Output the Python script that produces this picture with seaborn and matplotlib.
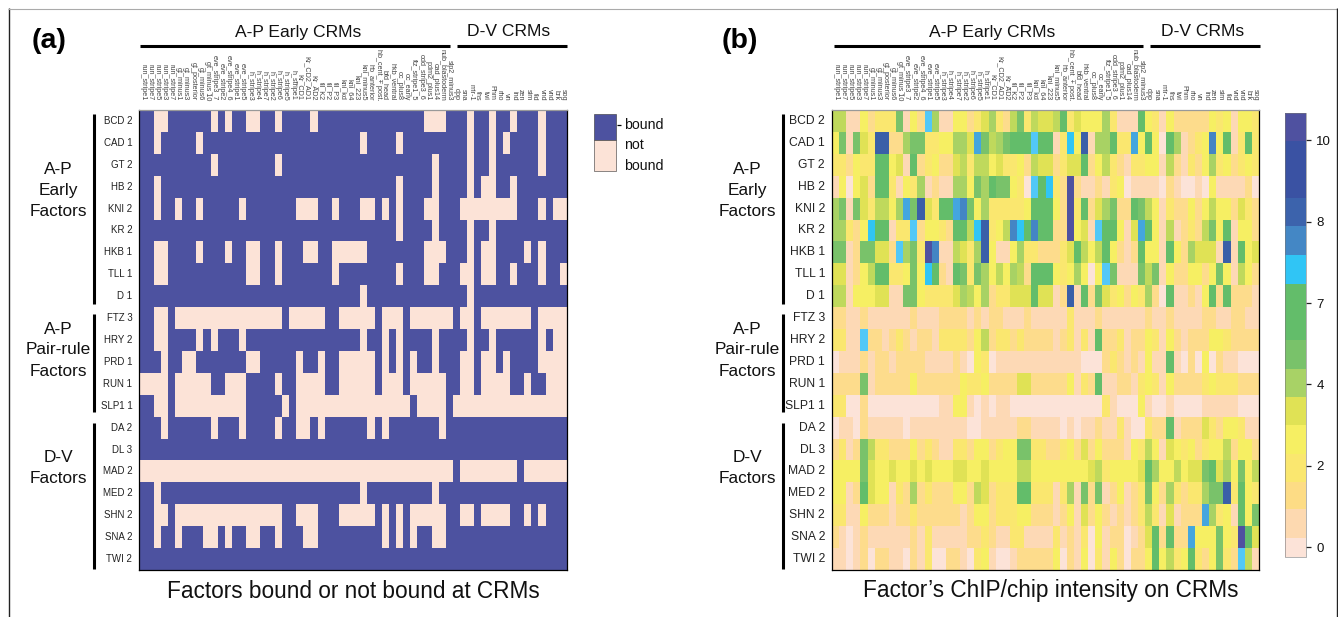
import numpy as np
import pandas as pd
import matplotlib
matplotlib.use("Agg")
import matplotlib.pyplot as plt
import seaborn as sns
from matplotlib.colors import ListedColormap, BoundaryNorm
from matplotlib.cm import ScalarMappable
from matplotlib.lines import Line2D
from matplotlib.patches import Rectangle

W, H = 1338, 617

factors = ["BCD 2", "CAD 1", "GT 2", "HB 2", "KNI 2", "KR 2", "HKB 1", "TLL 1", "D 1",
           "FTZ 3", "HRY 2", "PRD 1", "RUN 1", "SLP1 1",
           "DA 2", "DL 3", "MAD 2", "MED 2", "SHN 2", "SNA 2", "TWI 2"]

crms_ap = ["run_stripe1", "run_stripe7", "run_stripe5", "run_stripe3", "run_stripe7",
           "gt_minus1", "gt_minus3", "gt_posterior", "gt_minus6", "gt_minus 10",
           "eve_stripe3_7", "eve_stripe2", "eve_stripe4_6", "eve_stripe1", "eve_stripe5",
           "h_stripe3", "h_stripe4", "h_stripe7", "h_stripe2", "h_stripe6", "h_stripe5", "h_stripe1",
           "Kr_CD1", "Kr_CD2_AD1", "Kr_AD2", "tll_K2", "tll_P2", "tll_P3",
           "kni_kd", "kni_64", "kni_223", "kni_minus5", "hb_anterior", "hb_cent_+ post.",
           "bfd_head", "hkb_ventral", "oc_plus8", "oc_early", "ftz_stripe1_5", "odd_stripe3_6",
           "pdm2_plus1", "cad_plus14", "nub_blastoderm", "slp2_minus3"]
crms_dv = ["dpp", "sna", "mir-1", "ths", "twi", "Phm", "rho", "vn", "ind", "zen",
           "sim", "tld", "vnd", "vnd", "brk", "sog"]
crms = crms_ap + crms_dv

# panel a: columns where the factor is NOT bound
nb_bcd = [2, 3, 10, 12, 15, 16, 19, 24, 40, 41, 42, 46, 49, 52, 56]
nb_cad = [2, 8, 31, 36, 46, 49, 51, 56]
nb_gt = [10, 19, 41, 46, 49, 56]
nb_hb = [2, 36, 41, 46, 48, 49, 52]
nb_kni = [2, 5, 8, 14, 22, 23, 24, 27, 31, 32, 34, 36, 40, 41, 45, 46, 47, 48, 49, 50, 51, 52, 56, 58, 59]
nb_kr = [36, 41, 46, 49]
nb_hkb = [2, 3, 8, 12, 15, 16, 19, 23, 24, 27, 28, 29, 30, 31, 40, 41, 42, 46, 48, 49, 54, 56]
nb_tll = [2, 3, 15, 16, 19, 27, 36, 40, 41, 45, 46, 48, 49, 52, 56, 59]
nb_d = [31, 46]
nb_ftz = [2, 3, 5, 6, 7, 8, 9, 10, 11, 12, 13, 14, 15, 16, 17, 18, 19, 21, 22, 23, 24, 25, 28, 29, 30, 31, 32,
          34, 35, 36, 38, 39, 40, 41, 42, 43, 45, 46, 48, 49, 50, 51, 52, 53, 54, 56, 57, 58, 59]
nb_hry = [2, 3, 8, 10, 14, 31, 34, 36, 41, 46, 49, 56, 58, 59]
nb_prd = [3, 6, 7, 15, 16, 22, 25, 28, 29, 30, 31, 32, 34, 36, 38, 41, 45, 46, 48, 49, 51, 56, 57, 58, 59]
nb_run = [0, 1, 2, 3, 5, 6, 7, 8, 9, 12, 13, 14, 19, 22, 23, 24, 25, 28, 29, 30, 31, 32, 34, 35, 36,
          38, 39, 40, 41, 42, 45, 46, 48, 49, 50, 51, 54, 57, 58, 59]
nb_slp1 = [2, 3, 5, 6, 7, 8, 9, 10, 11, 12, 13, 14, 20, 22, 23, 24, 25, 26, 27, 28, 29, 30, 31, 32, 33, 34, 35, 36, 37,
           39, 40, 41, 42, 44, 45, 46, 47, 48, 49, 50, 51, 52, 53, 54, 55, 56, 57, 58, 59]
nb_da = [3, 10, 14, 19, 22, 23, 25, 32, 34, 42]
nb_dl = []
nb_mad = [0, 1, 2, 3, 4, 5, 6, 7, 8, 9, 10, 11, 12, 13, 14, 15, 16, 17, 18, 19, 20, 21, 22, 23, 24, 25, 26, 27, 28, 29,
          30, 31, 32, 33, 34, 35, 36, 37, 38, 39, 40, 41, 42, 43, 45, 46, 47, 48, 49, 50, 51, 52, 54, 55, 56, 57, 58, 59]
nb_med = [2, 31, 41]
nb_shn = [2, 3, 5, 6, 7, 8, 9, 10, 11, 12, 13, 14, 15, 16, 17, 18, 19, 22, 23, 24, 28, 29, 30, 31, 32,
          34, 36, 38, 39, 40, 41, 42, 45, 46, 48, 49, 50, 51, 54, 56]
nb_sna = [2, 5, 9, 10, 12, 15, 16, 19, 23, 24, 34, 36, 38, 41, 42]
nb_twi = []
not_bound = [nb_bcd, nb_cad, nb_gt, nb_hb, nb_kni, nb_kr, nb_hkb, nb_tll, nb_d, nb_ftz, nb_hry, nb_prd,
             nb_run, nb_slp1, nb_da, nb_dl, nb_mad, nb_med, nb_shn, nb_sna, nb_twi]

i_bcd = [6,6,1,1,4,2,3,3,3,8, 1,4,2,10,7,1,1,4,4,2, 3,5,7,3,2,6,8,3,6,5, 5,6,9,3,5,4,4,4,7,3, 1,1,1,9,4,3,1,4,2,2, 2,2,2,4,3,4,1,4,4,3]
i_cad = [4,8,1,8,5,3,14,14,2,2, 7,8,8,3,3,4,4,7,7,5, 12,8,6,7,8,9,9,9,10,9, 9,1,3,11,4,14,1,7,7,9, 3,3,12,4,9,4,0,9,7,1, 2,3,4,13,4,9,1,3,9,3]
i_gt = [3,3,2,4,3,3,9,9,4,5, 1,9,2,3,4,2,2,5,6,3, 6,6,4,5,3,3,4,2,6,5, 5,2,3,5,5,9,2,4,6,3, 2,1,3,3,4,4,1,6,2,1, 3,2,4,7,3,4,2,3,4,3]
i_hb = [1,4,0,4,5,2,9,9,3,1, 4,3,7,1,2,1,1,7,7,4, 8,7,9,8,8,4,3,0,10,9, 11,3,2,15,2,1,1,2,1,3, 4,0,1,1,1,1,0,2,1,0, 0,1,0,4,1,1,1,1,2,0]
i_kni = [7,8,1,8,5,3,6,6,4,7, 12,8,14,5,3,9,9,12,13,8, 4,7,3,3,3,3,3,4,9,9, 9,4,2,15,3,9,2,5,7,8, 2,2,9,8,6,4,1,3,2,2, 4,2,4,6,4,4,2,5,3,2]
i_kr = [7,7,3,2,4,11,9,9,1,3, 3,10,2,4,4,3,2,9,9,6, 11,14,3,4,6,13,11,9,13,9, 9,2,2,15,4,5,1,10,9,9, 4,1,5,12,9,4,1,6,1,2, 3,2,6,8,4,9,1,4,4,2]
i_hkb = [8,8,1,2,8,8,5,5,2,10, 7,8,3,15,13,1,1,6,5,3, 7,14,4,1,1,4,7,3,3,2, 2,2,3,5,9,6,4,6,9,4, 2,1,2,9,4,4,1,9,4,2, 7,5,5,5,1,14,1,9,4,5]
i_tll = [5,5,1,2,4,6,9,9,3,3, 4,8,4,11,9,2,1,9,8,3, 8,7,4,6,4,7,6,2,9,9, 9,4,3,4,7,4,0,4,10,8, 1,1,1,8,6,8,1,4,2,2, 4,4,2,4,8,4,1,6,4,2]
i_d = [6,6,1,4,4,4,5,5,1,1, 8,8,4,3,3,3,3,5,7,6, 4,7,2,3,3,5,5,5,9,5, 5,1,2,14,1,9,2,8,5,3, 4,2,4,3,7,2,0,9,1,1, 2,1,4,9,2,9,2,2,2,1]
i_ftz = [2,2,1,1,2,1,1,1,1,1, 1,2,1,1,1,2,2,2,2,1, 2,1,2,2,1,1,1,2,1,1, 1,1,1,3,1,1,1,2,1,1, 1,1,1,1,2,1,1,2,1,1, 1,1,2,2,1,1,2,2,1,1]
i_hry = [3,3,1,1,10,2,2,1,2,3, 2,1,2,2,1,3,3,3,3,2, 4,6,2,3,3,2,3,2,2,2, 2,1,2,3,1,3,1,9,2,2, 3,1,2,2,4,3,1,4,2,1, 2,2,2,4,4,3,2,2,2,2]
i_prd = [0,1,1,1,2,1,2,2,1,2, 2,2,2,1,1,1,1,2,1,0, 4,3,0,1,1,1,1,1,1,1, 1,1,1,1,1,0,0,0,2,3, 2,1,2,1,4,1,1,9,1,0, 2,0,4,0,2,1,1,0,0,0]
i_run = [2,2,2,2,8,1,2,2,2,2, 2,4,2,2,2,2,2,2,4,3, 3,4,2,2,2,2,5,5,2,2, 2,2,2,4,1,3,2,9,1,1, 2,2,1,3,4,3,1,4,2,2, 2,2,3,4,3,3,3,2,2,2]
i_slp1 = [3,3,0,0,2,0,0,0,0,0, 0,0,0,0,0,1,1,4,4,1, 0,1,0,1,1,0,0,0,0,0, 0,0,0,0,0,0,0,0,3,1, 0,0,0,4,1,0,0,1,0,0, 0,0,1,1,1,1,1,0,0,0]
i_da = [0,1,1,0,2,1,1,1,1,1, 0,1,1,1,1,1,1,1,1,0, 0,1,1,1,1,1,2,2,1,1, 1,1,0,1,0,1,1,2,1,1, 3,1,0,0,3,2,2,9,1,2, 2,2,5,3,2,4,4,3,1,1]
i_dl = [2,3,1,2,8,6,3,3,2,2, 2,4,2,3,2,1,1,3,3,2, 4,4,2,3,4,4,8,8,3,3, 2,2,3,4,2,5,2,4,2,2, 2,1,4,3,6,4,1,5,4,3, 4,2,3,4,4,6,2,4,4,2]
i_mad = [4,4,4,4,8,5,4,4,5,4, 4,5,4,5,4,4,4,5,5,4, 4,5,4,4,4,4,6,6,4,4, 4,4,4,4,4,4,5,6,3,4, 4,4,4,5,9,7,4,4,6,4, 5,5,8,9,5,7,4,8,4,6]
i_med = [4,4,1,2,9,5,4,4,1,3, 2,7,2,3,2,2,2,4,4,2, 6,5,2,3,3,3,9,9,3,3, 3,1,3,7,1,8,2,8,1,2, 4,1,2,3,8,4,2,7,3,2, 3,3,7,8,8,14,3,9,4,3]
i_shn = [3,3,1,1,4,2,2,2,1,2, 2,3,2,2,2,2,2,2,1,2, 4,4,2,3,3,3,4,4,2,2, 2,1,2,4,1,5,2,4,2,1, 2,1,2,3,6,3,1,5,1,2, 2,2,12,7,3,4,1,9,4,8]
i_sna = [2,1,0,1,2,1,1,1,1,1, 1,2,1,3,1,1,1,1,1,2, 2,3,2,1,1,3,3,1,1,1, 1,3,1,2,1,3,0,4,1,2, 2,0,1,2,5,9,2,9,2,2, 12,4,4,4,8,4,3,15,9,5]
i_twi = [1,1,0,1,2,0,2,2,1,1, 0,2,1,3,0,0,2,2,1,0, 3,4,1,0,0,1,2,2,2,2, 2,4,0,2,1,4,0,3,1,4, 2,0,2,2,4,9,4,6,3,4, 9,3,2,4,8,3,2,10,6,1]
intensity = [i_bcd, i_cad, i_gt, i_hb, i_kni, i_kr, i_hkb, i_tll, i_d, i_ftz, i_hry, i_prd,
             i_run, i_slp1, i_da, i_dl, i_mad, i_med, i_shn, i_sna, i_twi]

bar_ticks = [0, 2, 4, 6, 8, 10]
bar_ticklabels = ["0", "2", "4", "7", "8", "10"]

blue = "#4D52A0"
pink = "#FCE3D7"
step_colors = ["#FCE3D8", "#FDD9B5", "#FDDC8C", "#FAE76F", "#F6EF63", "#E0E255", "#BFD95C", "#A8D264",
               "#79C26A", "#63BD6A", "#52C8F7", "#30C5F5", "#44A6DE", "#4485C4", "#3A5FA8", "#4F51A0"]
bar_colors = ["#FCE3D8", "#FDD9B0", "#FDDC85", "#FAE76F", "#F6EF63", "#E0E255", "#A8D266", "#79C26A",
              "#63BD6A", "#63BD6A", "#30C5F5", "#4487C5", "#3C63AC", "#3A52A3", "#3A52A3", "#4F51A0"]
bar_bounds = [-0.24, 0.22, 0.93, 1.6, 2.3, 3.01, 3.69, 4.39, 5.1, 5.78, 6.48, 7.19, 7.89, 8.57, 9.28, 9.98, 10.67]

sns.set_theme(style="white")
plt.rcParams["font.family"] = ["Liberation Sans", "DejaVu Sans"]


def px_axes(x0, y0, x1, y1):
    return [x0 / W, 1 - y1 / H, (x1 - x0) / W, (y1 - y0) / H]


def px_line(x0, y0, x1, y1, lw=2.2, color="black"):
    fig.add_artist(Line2D([x0 / W, x1 / W], [1 - y0 / H, 1 - y1 / H], color=color, lw=lw,
                          solid_capstyle="butt"))


def px_text(x, y, s, **kw):
    kw.setdefault("color", "#111111")
    kw.setdefault("va", "center")
    kw.setdefault("ha", "center")
    fig.text(x / W, 1 - y / H, s, **kw)


def finish_heat(ax, ysize, ypad):
    ax.xaxis.tick_top()
    ax.tick_params(axis="both", length=0)
    ax.tick_params(axis="x", pad=7, labelsize=5.2, labelcolor="#444444")
    ax.tick_params(axis="y", pad=ypad, labelsize=ysize, labelcolor="#222222")
    plt.setp(ax.get_xticklabels(), rotation=270, ha="center", va="bottom")
    plt.setp(ax.get_yticklabels(), rotation=0)
    for side in ax.spines:
        ax.spines[side].set_visible(True)
        ax.spines[side].set_color("black")
        ax.spines[side].set_linewidth(0.9)
    ax.spines["top"].set_color("#999999")


fig = plt.figure(figsize=(W / 100, H / 100), dpi=100)

# panel a
bound_table = pd.DataFrame(0, index=factors, columns=range(len(crms)))
for row, cols in zip(factors, not_bound):
    bound_table.loc[row, cols] = 1
bound_table.columns = crms

ax_a = fig.add_axes(px_axes(139.3, 110, 567, 570))
sns.heatmap(bound_table, ax=ax_a, cmap=ListedColormap([blue, pink]), vmin=0, vmax=1, cbar=False,
            xticklabels=True, yticklabels=True)
finish_heat(ax_a, 7, 5)

# panel b
intensity_table = pd.DataFrame(intensity, index=factors, columns=crms)
ax_b = fig.add_axes(px_axes(832, 110, 1259, 570))
sns.heatmap(intensity_table, ax=ax_b, cmap=ListedColormap(step_colors), vmin=-0.5, vmax=15.5, cbar=False,
            xticklabels=True, yticklabels=True)
finish_heat(ax_b, 8.7, 5)

# colour bar
cax = fig.add_axes(px_axes(1285, 113, 1306, 557))
sm = ScalarMappable(norm=BoundaryNorm(bar_bounds, len(bar_colors)), cmap=ListedColormap(bar_colors))
cb = fig.colorbar(sm, cax=cax, spacing="proportional", ticks=bar_ticks)
cb.ax.set_yticklabels(bar_ticklabels)
cb.ax.minorticks_off()
cb.ax.tick_params(length=3.5, width=0.9, pad=4, labelsize=9.5, color="#222222", labelcolor="#111111", right=True)
cb.outline.set_linewidth(0.4)
cb.outline.set_edgecolor("#777777")

# legend of panel a
fig.add_artist(Rectangle((594 / W, 1 - 140 / H), 22 / W, 26 / H, transform=fig.transFigure, fc=blue, ec="#333333", lw=0.4))
fig.add_artist(Rectangle((594 / W, 1 - 171 / H), 22 / W, 31 / H, transform=fig.transFigure, fc=pink, ec="#333333", lw=0.4))
px_line(617, 125, 621, 125, lw=0.9)
px_text(624, 125, "bound", ha="left", fontsize=10.2)
px_text(624, 155.5, "not\nbound", ha="left", fontsize=10.2, linespacing=1.55)

# headers, side bars and captions of the two panels
for off_x, top_a, top_b, top_c, top_d, title_a, title_b, cap_x, caption, tag_x in [
        (0, 140, 450, 457, 567, 298, 509, 353, "Factors bound or not bound at CRMs", 32),
        (689, 834, 1143, 1150, 1260, 992, 1203, 1051, "Factor\u2019s ChIP/chip intensity on CRMs", 722)]:
    px_line(top_a, 46, top_b, 46)
    px_line(top_c, 46, top_d, 46)
    px_text(title_a, 32, "A-P Early CRMs", fontsize=12.6)
    px_text(title_b, 32, "D-V CRMs", fontsize=12.6)
    px_text(tag_x, 41, "(a)" if off_x == 0 else "(b)", ha="left", fontsize=20.5, fontweight="bold", color="black")
    px_text(cap_x, 591, caption, fontsize=16.3)
    px_line(93.5 + off_x, 114, 93.5 + off_x, 304)
    px_line(93.5 + off_x, 314, 93.5 + off_x, 412)
    px_line(93.5 + off_x, 423, 93.5 + off_x, 569)
    px_text(58 + off_x, 191, "A-P\nEarly\nFactors", fontsize=12.4, linespacing=1.5)
    px_text(58 + off_x, 350, "A-P\nPair-rule\nFactors", fontsize=12.4, linespacing=1.5)
    px_text(58 + off_x, 468, "D-V\nFactors", fontsize=12.4, linespacing=1.5)

# thin page frame
px_line(8.5, 8, 8.5, 617, lw=1.0, color="#222222")
px_line(8, 8.5, 1337, 8.5, lw=0.8, color="#aaaaaa")
px_line(1337, 8, 1337, 617, lw=1.0, color="#222222")

fig.savefig("out.png", dpi=100)
